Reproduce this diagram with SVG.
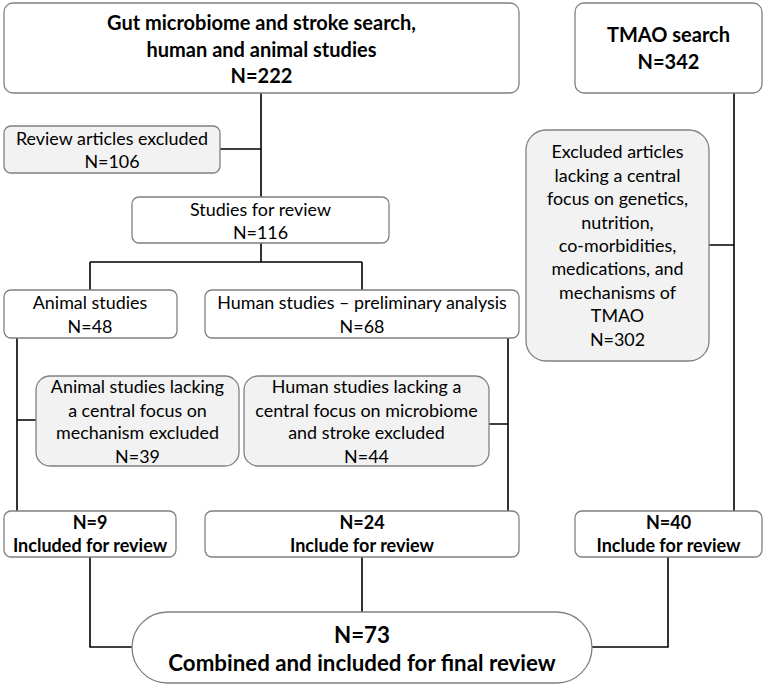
<svg xmlns="http://www.w3.org/2000/svg" width="765" height="687" viewBox="0 0 765 687">
<style>
.b{fill:#fff;stroke:#808080;stroke-width:1.3}
.g{fill:#f2f2f2;stroke:#808080;stroke-width:1.3}
.c{fill:none;stroke:#000;stroke-width:1.6}
text{font-family:Lato,"Open Sans","Liberation Sans",sans-serif;fill:#000;text-anchor:middle}
.r{font-size:17.9px}
.t{font-size:20px;font-weight:bold}
.m{font-size:18px;font-weight:bold}
.f{font-size:22.3px;font-weight:bold}
</style>
<rect width="765" height="687" fill="#fff"/>
<g id="connectors">
<path class="c" d="M261 93V197M220 149H261"/>
<path class="c" d="M261 243V262M90 262H362M90 262V290M362 262V290"/>
<path class="c" d="M17 338V511M17 420H36"/>
<path class="c" d="M508 338V511M489 424H508"/>
<path class="c" d="M734 93V511M709 245H734"/>
<path class="c" d="M90 557V647H132M362 557V612M668 557V647H592"/>
</g>
<g id="n-gut"><rect class="b" x="4" y="3" width="515" height="90" rx="9"/>
<text class="t" x="261.5" y="30">Gut microbiome and stroke search,</text>
<text class="t" x="261.5" y="57">human and animal studies</text>
<text class="t" x="261.5" y="83">N=222</text></g>
<g id="n-tmao"><rect class="b" x="575" y="3" width="187" height="90" rx="9"/>
<text class="t" x="668.5" y="42">TMAO search</text>
<text class="t" x="668.5" y="69">N=342</text></g>
<g id="n-revex"><rect class="g" x="4" y="126" width="216" height="47" rx="7"/>
<text class="r" x="112" y="144.5">Review articles excluded</text>
<text class="r" x="112" y="168">N=106</text></g>
<g id="n-studies"><rect class="b" x="132" y="197" width="257" height="46" rx="7"/>
<text class="r" x="260.5" y="215.5">Studies for review</text>
<text class="r" x="260.5" y="238.5">N=116</text></g>
<g id="n-tmaoex"><rect class="g" x="526" y="130" width="183" height="231" rx="20"/>
<text class="r" x="617.5" y="158">Excluded articles</text>
<text class="r" x="617.5" y="182">lacking a central</text>
<text class="r" x="617.5" y="205">focus on genetics,</text>
<text class="r" x="617.5" y="229">nutrition,</text>
<text class="r" x="617.5" y="252">co-morbidities,</text>
<text class="r" x="617.5" y="275">medications, and</text>
<text class="r" x="617.5" y="299">mechanisms of</text>
<text class="r" x="617.5" y="322">TMAO</text>
<text class="r" x="617.5" y="346">N=302</text></g>
<g id="n-animal"><rect class="b" x="4" y="290" width="173" height="48" rx="7"/>
<text class="r" x="90" y="309">Animal studies</text>
<text class="r" x="90" y="333">N=48</text></g>
<g id="n-human"><rect class="b" x="205" y="290" width="314" height="48" rx="7"/>
<text class="r" x="362" y="309">Human studies – preliminary analysis</text>
<text class="r" x="362" y="333">N=68</text></g>
<g id="n-animalex"><rect class="g" x="36" y="376" width="203" height="90" rx="14"/>
<text class="r" x="137.5" y="393">Animal studies lacking</text>
<text class="r" x="137.5" y="417">a central focus on</text>
<text class="r" x="137.5" y="439">mechanism excluded</text>
<text class="r" x="137.5" y="463">N=39</text></g>
<g id="n-humanex"><rect class="g" x="244" y="376" width="245" height="90" rx="14"/>
<text class="r" x="366.5" y="393">Human studies lacking a</text>
<text class="r" x="366.5" y="417">central focus on microbiome</text>
<text class="r" x="366.5" y="439">and stroke excluded</text>
<text class="r" x="366.5" y="463">N=44</text></g>
<g id="n-inc9"><rect class="b" x="4" y="511" width="172" height="46" rx="7"/>
<text class="m" x="90" y="529">N=9</text>
<text class="m" x="90" y="552">Included for review</text></g>
<g id="n-inc24"><rect class="b" x="205" y="511" width="314" height="46" rx="7"/>
<text class="m" x="362" y="529">N=24</text>
<text class="m" x="362" y="552">Include for review</text></g>
<g id="n-inc40"><rect class="b" x="575" y="511" width="187" height="46" rx="7"/>
<text class="m" x="668.5" y="529">N=40</text>
<text class="m" x="668.5" y="552">Include for review</text></g>
<g id="n-final"><rect class="b" x="132" y="612" width="460" height="71" rx="35.5"/>
<text class="f" x="362" y="642.5">N=73</text>
<text class="f" x="362" y="671">Combined and included for final review</text></g>
</svg>
